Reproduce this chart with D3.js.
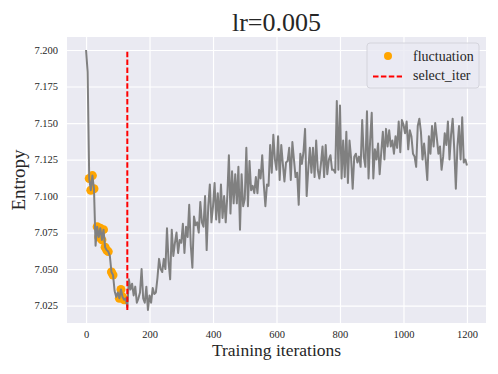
<!DOCTYPE html>
<html>
<head>
<meta charset="utf-8">
<script src="https://cdn.jsdelivr.net/npm/d3@7"></script>
<style>
  body { margin: 0; background: #fff; }
  svg text { font-family: "Liberation Serif", "Times New Roman", serif; fill: #262626; }
</style>
</head>
<body>
<script>
// entropy logged every 5 training iterations (0 .. 1200)
var step = 5;
var entropy = [
  7.200, 7.185, 7.112, 7.104, 7.114, 7.105, 7.066, 7.079, 7.072, 7.078,
  7.070, 7.077, 7.065, 7.063, 7.062, 7.059, 7.048, 7.046, 7.035, 7.031,
  7.034, 7.030, 7.036, 7.031, 7.029, 7.030, 7.024,
  7.043, 7.036, 7.040, 7.032, 7.038, 7.027, 7.030, 7.034, 7.050, 7.030,
  7.027, 7.038, 7.022, 7.032, 7.027, 7.037, 7.033, 7.034, 7.044, 7.057,
  7.050, 7.048, 7.057, 7.050, 7.078, 7.055, 7.043, 7.077, 7.059, 7.068,
  7.075, 7.061, 7.070, 7.068, 7.081, 7.061, 7.079, 7.072, 7.094, 7.066,
  7.051, 7.086, 7.080, 7.082, 7.075, 7.096, 7.082, 7.079, 7.100, 7.063,
  7.093, 7.108,
  7.082, 7.093, 7.109, 7.084, 7.102, 7.082, 7.108, 7.085, 7.100, 7.082,
  7.100, 7.128, 7.088, 7.117, 7.095, 7.115, 7.095, 7.120, 7.077, 7.115,
  7.093, 7.098, 7.133, 7.093, 7.124, 7.104, 7.107, 7.102, 7.113, 7.102,
  7.118, 7.112, 7.128, 7.108, 7.093, 7.108, 7.107, 7.135, 7.116, 7.142,
  7.125, 7.118, 7.141, 7.111, 7.135, 7.122, 7.110, 7.123, 7.124, 7.133,
  7.111, 7.137, 7.125, 7.113, 7.116, 7.094, 7.129, 7.122, 7.130, 7.146,
  7.100, 7.118, 7.133, 7.116, 7.133, 7.113, 7.138, 7.118, 7.112, 7.122,
  7.134, 7.113, 7.135, 7.115, 7.125, 7.128, 7.118, 7.118, 7.116, 7.165,
  7.118, 7.162,
  7.112, 7.138, 7.113, 7.144, 7.109, 7.138, 7.126, 7.105, 7.127, 7.129,
  7.123, 7.127, 7.120, 7.152, 7.127, 7.120, 7.158, 7.112, 7.138, 7.157,
  7.112, 7.132, 7.125, 7.136, 7.115, 7.130, 7.144, 7.125, 7.146, 7.134,
  7.145, 7.134, 7.138, 7.129, 7.141, 7.133, 7.151, 7.130, 7.152, 7.149,
  7.143, 7.151, 7.132, 7.145, 7.141, 7.129, 7.127, 7.120, 7.148, 7.153,
  7.144, 7.125, 7.136, 7.125, 7.111, 7.141, 7.129, 7.148, 7.134, 7.150,
  7.140, 7.129, 7.134, 7.118, 7.127, 7.143, 7.135, 7.151, 7.125, 7.142,
  7.153, 7.132, 7.105, 7.134, 7.148, 7.125, 7.154, 7.123, 7.125, 7.121
];

// iterations flagged as fluctuation (orange dots)
var fluctIters = [10, 15, 20, 25, 35, 40, 45, 50, 55, 60, 65, 70, 80, 85, 105, 110, 115, 120];
var selectIter = 130;

var xTicks = [0, 200, 400, 600, 800, 1000, 1200];
var yTicks = [7.025, 7.050, 7.075, 7.100, 7.125, 7.150, 7.175, 7.200];

var points = entropy.map(function(v, i) { return { it: i * step, v: v }; });
var fluctPoints = points.filter(function(d) { return fluctIters.indexOf(d.it) >= 0; });

var W = 498, H = 374;
// plot box (window.top is reserved, so prefixed names)
var pL = 67, pR = 486, pT = 37, pB = 323;
var serif = '"Liberation Serif", "Times New Roman", serif';

var svg = d3.select("body").append("svg")
  .attr("width", W)
  .attr("height", H);

// matplotlib style 5% margins around the data
var xExt = d3.extent(points, function(d) { return d.it; });
var yExt = d3.extent(entropy);
var xPad = (xExt[1] - xExt[0]) * 0.05, yPad = (yExt[1] - yExt[0]) * 0.05;

var x = d3.scaleLinear().domain([xExt[0] - xPad, xExt[1] + xPad]).range([pL, pR]);
var y = d3.scaleLinear().domain([yExt[0] - yPad, yExt[1] + yPad]).range([pB, pT]);

// background panel
svg.append("rect")
  .attr("x", pL).attr("y", pT)
  .attr("width", pR - pL).attr("height", pB - pT)
  .attr("fill", "#eaeaf2");

// axes with gridlines
var gx = svg.append("g")
  .attr("transform", "translate(0," + pB + ")")
  .call(d3.axisBottom(x).tickValues(xTicks).tickFormat(d3.format("d"))
    .tickSize(-(pB - pT)).tickPadding(8));

var gy = svg.append("g")
  .attr("transform", "translate(" + pL + ",0)")
  .call(d3.axisLeft(y).tickValues(yTicks).tickFormat(d3.format(".3f"))
    .tickSize(-(pR - pL)).tickPadding(9));

[gx, gy].forEach(function(g) {
  g.attr("font-family", serif).attr("font-size", 10.5);
  g.select(".domain").remove();
  g.selectAll(".tick line").attr("stroke", "#fff").attr("stroke-width", 1.2);
  g.selectAll(".tick text").attr("fill", "#262626");
});

// fluctuation markers sit under the line
svg.append("g").selectAll("circle")
  .data(fluctPoints)
  .enter()
  .append("circle")
  .attr("cx", function(d) { return x(d.it); })
  .attr("cy", function(d) { return y(d.v); })
  .attr("r", 4.5)
  .attr("fill", "orange");

var line = d3.line()
  .x(function(d) { return x(d.it); })
  .y(function(d) { return y(d.v); });

svg.append("path")
  .datum(points)
  .attr("d", line)
  .attr("fill", "none")
  .attr("stroke", "grey")
  .attr("stroke-width", 2)
  .attr("stroke-linejoin", "round");

// selected iteration
svg.append("line")
  .attr("x1", x(selectIter)).attr("x2", x(selectIter))
  .attr("y1", y(yExt[0])).attr("y2", y(yExt[1]))
  .attr("stroke", "red")
  .attr("stroke-width", 2)
  .attr("stroke-dasharray", "5.5,2.4");

// titles
svg.append("text")
  .attr("x", (pL + pR) / 2).attr("y", 31)
  .attr("text-anchor", "middle")
  .attr("font-size", 26)
  .text("lr=0.005");

svg.append("text")
  .attr("x", (pL + pR) / 2).attr("y", 356)
  .attr("text-anchor", "middle")
  .attr("font-size", 17.5)
  .text("Training iterations");

svg.append("text")
  .attr("transform", "translate(25," + (pT + pB) / 2 + ") rotate(-90)")
  .attr("text-anchor", "middle")
  .attr("font-size", 19)
  .text("Entropy");

// legend
var lg = svg.append("g").attr("transform", "translate(367,43)");
lg.append("rect")
  .attr("width", 112).attr("height", 45)
  .attr("rx", 3)
  .attr("fill", "#eaeaf2").attr("fill-opacity", 0.8)
  .attr("stroke", "#d4d4dc");
lg.append("circle")
  .attr("cx", 21).attr("cy", 13).attr("r", 4)
  .attr("fill", "orange");
lg.append("line")
  .attr("x1", 6).attr("x2", 35).attr("y1", 33.5).attr("y2", 33.5)
  .attr("stroke", "red").attr("stroke-width", 2)
  .attr("stroke-dasharray", "5.5,2.4");
lg.append("text").attr("x", 46).attr("y", 18).attr("font-size", 14).text("fluctuation");
lg.append("text").attr("x", 46).attr("y", 37).attr("font-size", 14).text("select_iter");
</script>
</body>
</html>
